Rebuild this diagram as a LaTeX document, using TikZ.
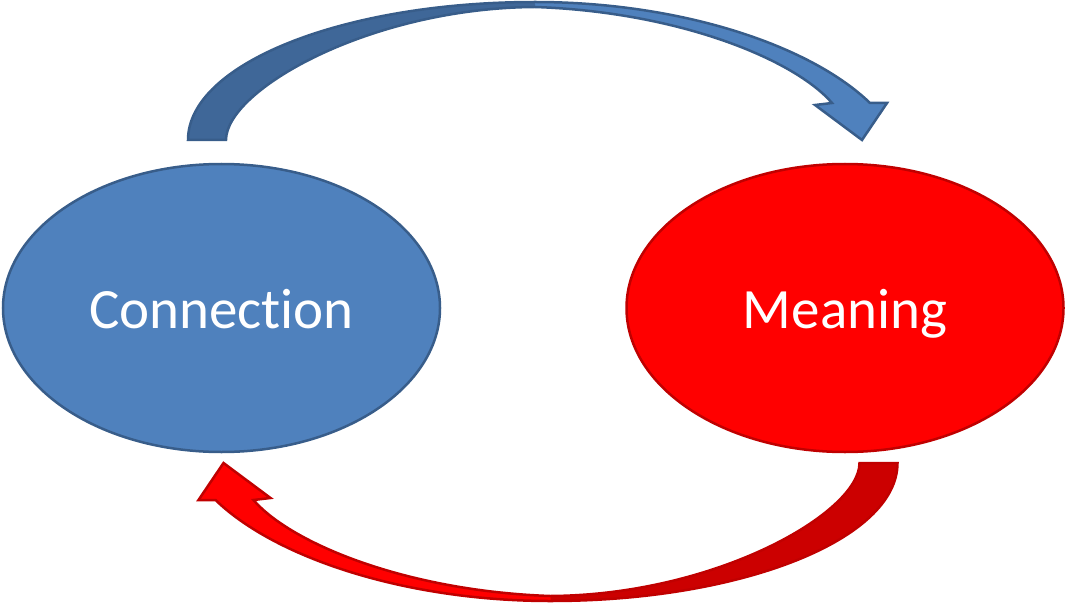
\documentclass[tikz,border=0pt]{standalone}
\usepackage{fontspec}
\setmainfont{Carlito}[Ligatures={NoCommon,NoContextual}]
\usetikzlibrary{shapes.geometric}
\definecolor{bluefill}{RGB}{79,129,189}
\definecolor{blueline}{RGB}{56,93,138}
\definecolor{bluedark}{RGB}{63,103,152}
\definecolor{redfill}{RGB}{255,0,0}
\definecolor{redline}{RGB}{192,0,0}
\definecolor{reddark}{RGB}{204,0,0}
\tikzset{
  oval/.style={ellipse, draw, line width=2.5pt, inner sep=0pt,
    minimum width=437pt, minimum height=288pt, text=white,
    font=\fontsize{57}{60}\selectfont, text height=40pt, text depth=0pt},
  curvedarrow/.pic={
    \fill[arrowlight] (188,140) .. controls (188,64) and (343,2) .. (535,2)
      .. controls (680,2) and (810,45) .. (870,103) -- (887,103) -- (862,140)
      -- (815,105) -- (832,103) .. controls (795,60) and (680,12) .. (535,7)
      .. controls (370,8) and (226,90) .. (226,140) -- cycle;
    \fill[arrowdark] (188,140) .. controls (188,64) and (343,2) .. (535,2)
      -- (535,7) .. controls (370,8) and (226,90) .. (226,140) -- cycle;
    \draw[arrowline] (188,140) .. controls (188,64) and (343,2) .. (535,2)
      .. controls (680,2) and (810,45) .. (870,103) -- (887,103) -- (862,140)
      -- (815,105) -- (832,103) .. controls (795,60) and (680,12) .. (535,7)
      .. controls (370,8) and (226,90) .. (226,140) -- cycle;
  }
}
\begin{document}
\begin{tikzpicture}[x=1pt, y=-1pt]
  \useasboundingbox (0,0) rectangle (1067,604);
  \node[oval, fill=bluefill, draw=blueline] (conn) at (221.5,308) {Connection};
  \node[oval, fill=redfill, draw=redline] (mean) at (845,308) {Meaning};
  \begin{scope}[arrowlight/.style={fill=bluefill}, arrowdark/.style={fill=bluedark},
      arrowline/.style={draw=blueline, line width=2.5pt}]
    \pic (toparrow) {curvedarrow};
  \end{scope}
  \begin{scope}[shift={(1085.5,603)}, xscale=-1, yscale=-1,
      arrowlight/.style={fill=redfill}, arrowdark/.style={fill=reddark},
      arrowline/.style={draw=redline, line width=2.5pt}]
    \pic[transform shape] (botarrow) {curvedarrow};
  \end{scope}
\end{tikzpicture}
\end{document}
